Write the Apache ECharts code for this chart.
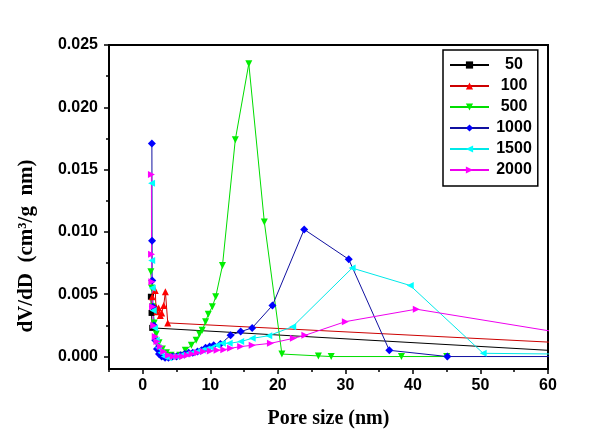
<!DOCTYPE html>
<html><head><meta charset="utf-8">
<script src="https://cdn.jsdelivr.net/npm/echarts@6/dist/echarts.min.js"></script>
<style>html,body{margin:0;padding:0;background:#fff}#c{width:591px;height:438px}</style>
</head><body><div id="c"></div>
<script>
const seriesNames = ['50', '100', '500', '1000', '1500', '2000'];

const s50 = [[1.2,0.0048],[1.3,0.0035],[1.4,0.0023],[75,0.00004]];
const s100 = [[1.4,0.0048],[1.85,0.0053],[1.95,0.0040],[2.1,0.0036],[2.35,0.0039],[2.6,0.0033],[2.8,0.0035],[3.1,0.0041],[3.35,0.0052],[3.7,0.0027],[75,0.00075]];
const s500 = [[1.2,0.0068],[1.3,0.0055],[1.45,0.0040],[1.7,0.0027],[2.0,0.0018],[2.4,0.0011],[2.9,0.0006],[3.5,0.0003],[4.2,0.0001],[5.0,0.0],[5.5,0.0001],[6.3,0.0005],[7.2,0.0009],[7.9,0.0013],[8.4,0.0018],[8.8,0.0021],[9.3,0.0028],[9.7,0.0034],[10.3,0.0040],[10.8,0.0048],[11.8,0.0073],[13.7,0.0174],[15.7,0.0235],[18.0,0.0108],[20.6,0.0002],[26.0,0.00005],[27.9,0.0],[38.3,0.0],[45,0.0]];
const s1000 = [[1.35,0.0171],[1.38,0.0093],[1.4,0.0061],[1.5,0.0040],[1.65,0.0025],[1.85,0.0013],[2.1,0.0006],[2.4,0.0002],[2.8,0.0],[3.3,-0.0001],[3.8,-0.0001],[4.4,0.0],[5.0,0.0],[5.6,0.0001],[6.2,0.0002],[6.8,0.0003],[7.4,0.0003],[8.1,0.0004],[8.7,0.0005],[9.3,0.0007],[9.9,0.0008],[10.5,0.0009],[11.5,0.0010],[13.0,0.0017],[14.5,0.0020],[16.2,0.0023],[19.2,0.0041],[23.9,0.0102],[30.5,0.0078],[36.5,0.0005],[45.1,0.0],[80,0.0]];
const s1500 = [[1.3,0.0139],[1.32,0.0077],[1.4,0.0055],[1.55,0.0037],[1.75,0.0023],[2.0,0.0013],[2.3,0.0007],[2.7,0.0003],[3.2,0.0],[3.8,-0.0001],[4.4,0.0],[5.0,0.0],[5.7,0.0001],[6.5,0.0002],[7.3,0.0003],[8.1,0.0004],[8.8,0.0005],[9.5,0.0006],[10.2,0.0007],[11.0,0.0009],[11.8,0.00106],[12.8,0.00106],[14.5,0.0012],[16.2,0.00146],[18.65,0.00167],[22.2,0.0024],[31.0,0.0071],[39.6,0.0057],[50.4,0.00026],[80,0.0001]];
const s2000 = [[1.28,0.0146],[1.3,0.0082],[1.35,0.0060],[1.45,0.0040],[1.62,0.0025],[1.85,0.0016],[2.1,0.0012],[2.6,0.0008],[3.1,0.0004],[3.8,0.0001],[4.5,0.0],[5.2,0.0],[5.9,0.0],[6.6,0.0001],[7.3,0.0002],[8.1,0.0003],[9.0,0.0004],[10.0,0.00045],[11.0,0.0005],[12.0,0.00055],[13.0,0.00066],[14.5,0.0008],[16.2,0.0009],[18.9,0.00106],[22.3,0.00146],[24.0,0.0017],[30.0,0.0028],[40.5,0.0038],[75,0.00075]];

const xTickValues = [0, 10, 20, 30, 40, 50, 60];
const xMinorTicks = [-5, 5, 15, 25, 35, 45, 55];
const yTickValues = [0, 0.005, 0.010, 0.015, 0.020, 0.025];
const yMinorTicks = [0.0025, 0.0075, 0.0125, 0.0175, 0.0225];

const xTitle = 'Pore size (nm)';
const yTitle = 'dV/dD  (cm³/g  nm)';

const seriesData = [s50, s100, s500, s1000, s1500, s2000];
const markerColors = ['#000000', '#ff0000', '#00ee00', '#0000ff', '#00ffff', '#ff00ff'];
const lineColors = ['#000000', '#cc0000', '#00dd00', '#1010a0', '#00e8e8', '#ee00ee'];
const symbols = ['rect', 'triangle', 'triangle', 'diamond', 'triangle', 'triangle'];
const rotations = [0, 0, 180, 0, 90, -90];
const sizes = [6, 7, 7, 8, 7, 7];

const labelFont = {fontFamily: '"Liberation Sans", Arial, sans-serif', fontWeight: 'bold', fontSize: 16, color: '#000'};

const chart = echarts.init(document.getElementById('c'), null, {renderer: 'canvas'});
chart.setOption({
  animation: false,
  backgroundColor: '#fff',
  grid: {left: 109, top: 45, right: 43, bottom: 69, show: true, borderColor: '#000', borderWidth: 2, backgroundColor: 'transparent'},
  xAxis: [{
    type: 'value', min: -5, max: 60,
    name: xTitle, nameLocation: 'middle', nameGap: 40,
    nameTextStyle: {fontFamily: '"Liberation Serif", "Times New Roman", serif', fontWeight: 'bold', fontSize: 20, color: '#000'},
    axisLine: {onZero: false, lineStyle: {color: '#000', width: 2}},
    axisTick: {customValues: xTickValues, length: 5, lineStyle: {color: '#000', width: 1.5}},
    axisLabel: Object.assign({customValues: xTickValues, margin: 9}, labelFont),
    splitLine: {show: false}
  }, {
    type: 'value', min: -5, max: 60, position: 'bottom',
    axisLine: {show: false, onZero: false},
    axisTick: {customValues: xMinorTicks, length: 3, lineStyle: {color: '#000', width: 1.5}},
    axisLabel: {show: false}, splitLine: {show: false}
  }],
  yAxis: [{
    type: 'value', min: -0.001, max: 0.025,
    axisLine: {onZero: false, lineStyle: {color: '#000', width: 2}},
    axisTick: {customValues: yTickValues, length: 5, lineStyle: {color: '#000', width: 1.5}},
    axisLabel: Object.assign({customValues: yTickValues, margin: 11, formatter: v => v.toFixed(3)}, labelFont),
    splitLine: {show: false}
  }, {
    type: 'value', min: -0.001, max: 0.025, position: 'left',
    axisLine: {show: false, onZero: false},
    axisTick: {customValues: yMinorTicks, length: 3, lineStyle: {color: '#000', width: 1.5}},
    axisLabel: {show: false}, splitLine: {show: false}
  }],
  legend: {
    data: seriesNames, orient: 'vertical', left: 443, top: 50,
    itemWidth: 39, itemHeight: 9, itemGap: 5,
    padding: [7, 6, 8, 6],
    borderColor: '#000', borderWidth: 1.5, backgroundColor: '#fff',
    formatter: '{a|{name}}',
    textStyle: {rich: {a: Object.assign({width: 40, align: 'center'}, labelFont)}}
  },
  graphic: [{
    type: 'text', x: 27, y: 246, rotation: Math.PI / 2,
    style: {text: yTitle, align: 'center', verticalAlign: 'middle',
      font: 'bold 21px "Liberation Serif", "Times New Roman", serif', fill: '#000'}
  }],
  series: seriesData.map((d, i) => ({
    name: seriesNames[i], type: 'line', data: d,
    xAxisIndex: 0, yAxisIndex: 0, clip: true,
    symbol: symbols[i], symbolRotate: rotations[i], symbolSize: sizes[i], showSymbol: true,
    lineStyle: {color: lineColors[i], width: 1},
    itemStyle: {color: markerColors[i]}
  }))
});
</script></body></html>
